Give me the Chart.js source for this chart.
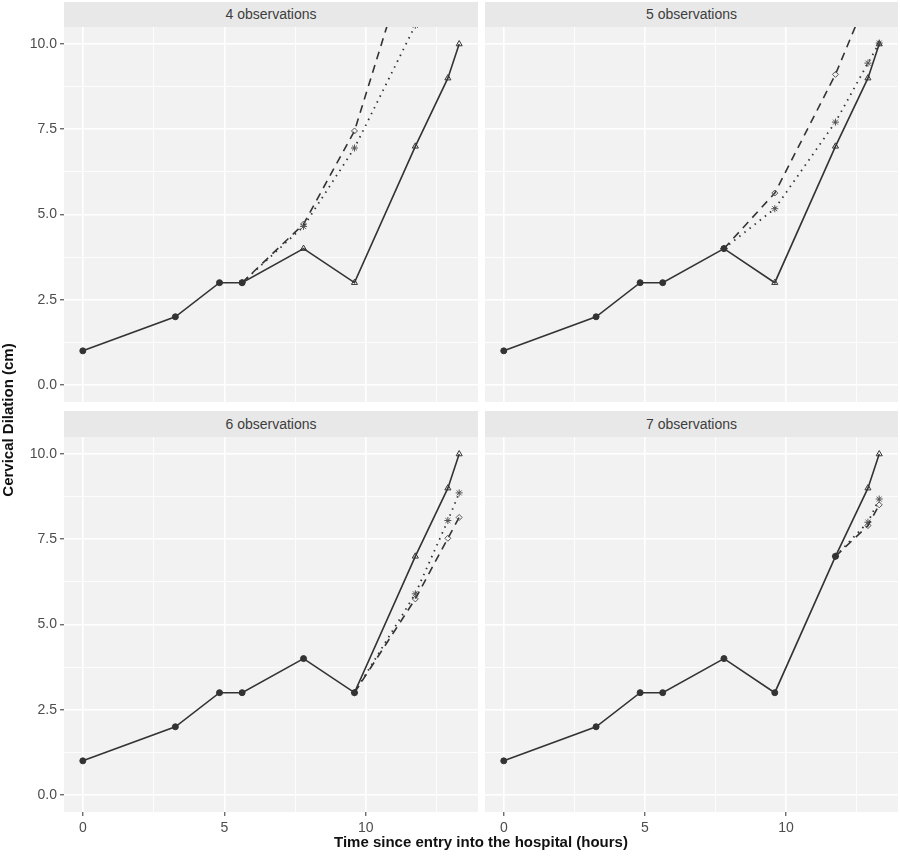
<!DOCTYPE html>
<html>
<head>
<meta charset="utf-8">
<script src="https://cdn.jsdelivr.net/npm/chart.js@4.4.0/dist/chart.umd.min.js"></script>
<style>
  body { margin: 0; background: #fff; width: 900px; height: 859px; position: relative; overflow: hidden; font-family: "Liberation Sans", Arial, sans-serif; }
  canvas { position: absolute; }
  .strip { position: absolute; background: #E8E8E8; color: #3d3d3d; font-size: 14px; text-align: center; line-height: 25px; }
  .titulo { position: absolute; font-weight: bold; font-size: 15px; color: #111; text-align: center; line-height: 18px; white-space: nowrap; }
</style>
</head>
<body>
<div class="strip" style="left:64px;top:2px;width:414px;height:25px">4 observations</div>
<div class="strip" style="left:485px;top:2px;width:413px;height:25px">5 observations</div>
<div class="strip" style="left:64px;top:411px;width:414px;height:26px;line-height:26px">6 observations</div>
<div class="strip" style="left:485px;top:411px;width:413px;height:26px;line-height:26px">7 observations</div>

<canvas id="panel4" width="478" height="375" style="left:0;top:27px"></canvas>
<canvas id="panel5" width="413" height="375" style="left:485px;top:27px"></canvas>
<canvas id="panel6" width="478" height="422" style="left:0;top:437px"></canvas>
<canvas id="panel7" width="413" height="422" style="left:485px;top:437px"></canvas>

<div class="titulo" style="left:-102px;top:411px;width:220px;transform:rotate(-90deg)">Cervical Dilation (cm)</div>
<div class="titulo" style="left:181px;top:833px;width:600px">Time since entry into the hospital (hours)</div>

<script>
// datos observados (tiempo en horas, dilatación en cm)
const horas = [0, 3.27, 4.83, 5.63, 7.8, 9.6, 11.75, 12.9, 13.3];
const dilatacion = [1, 2, 3, 3, 4, 3, 7, 9, 10];

// predicciones, empiezan en la última observación usada
const pred4Guiones = [3, 4.72, 7.45, 13.2];
const pred4Puntos = [3, 4.65, 6.95, 10.55];
const pred5Guiones = [4, 5.63, 9.11, 11.4];
const pred5Puntos = [4, 5.17, 7.71, 9.44, 10.03];
const pred6Guiones = [3, 5.75, 7.53, 8.14];
const pred6Puntos = [3, 5.9, 8.05, 8.86];
const pred7Guiones = [7, 7.9, 8.51];
const pred7Puntos = [7, 8.0, 8.68];

const ticksX = [0, 2.5, 5, 7.5, 10, 12.5];
const ticksY = [0, 1.25, 2.5, 3.75, 5, 6.25, 7.5, 8.75, 10];

const COLOR_LINEA = '#333333';
const COLOR_PANEL = '#F2F2F2';

const fondoPanel = {
    id: 'fondoPanel',
    beforeDraw(chart) {
        const { ctx, chartArea: a } = chart;
        ctx.save();
        ctx.fillStyle = COLOR_PANEL;
        ctx.fillRect(a.left, a.top, a.right - a.left, a.bottom - a.top);
        ctx.restore();
    }
};

function esMayor(v, paso) {
    return Math.abs(v / paso - Math.round(v / paso)) < 1e-6;
}

function puntos(xs, ys) {
    return ys.map((y, i) => ({ x: xs[i], y: y }));
}

function crearPanel(id, nObs, guiones, puntitos, conEjeX, conEjeY) {
    const xsPred = horas.slice(nObs - 1);
    const estilos = horas.map((h, i) => i < nObs ? 'circle' : 'triangle');

    new Chart(document.getElementById(id), {
        type: 'line',
        data: {
            datasets: [
                {
                    data: puntos(horas, dilatacion),
                    borderColor: COLOR_LINEA,
                    borderWidth: 1.6,
                    pointStyle: estilos,
                    pointRadius: horas.map((h, i) => i < nObs ? 3 : 3.5),
                    pointBackgroundColor: horas.map((h, i) => i < nObs ? COLOR_LINEA : 'rgba(0,0,0,0)'),
                    pointBorderColor: COLOR_LINEA,
                    pointBorderWidth: 1,
                    clip: 0
                },
                {
                    data: puntos(xsPred, guiones),
                    borderColor: COLOR_LINEA,
                    borderWidth: 1.6,
                    borderDash: [8, 6],
                    pointStyle: 'rectRot',
                    pointRadius: 3,
                    pointBackgroundColor: 'rgba(0,0,0,0)',
                    pointBorderColor: '#555',
                    pointBorderWidth: 1,
                    clip: 0
                },
                {
                    data: puntos(xsPred, puntitos),
                    borderColor: COLOR_LINEA,
                    borderWidth: 1.8,
                    borderDash: [1.5, 5],
                    pointStyle: 'star',
                    pointRadius: 3.5,
                    pointBorderColor: '#555',
                    pointBorderWidth: 1,
                    clip: 0
                }
            ]
        },
        options: {
            responsive: false,
            animation: false,
            events: [],
            layout: { autoPadding: false, padding: 0 },
            plugins: { legend: { display: false }, tooltip: { enabled: false } },
            scales: {
                x: {
                    type: 'linear',
                    min: -0.665,
                    max: 13.965,
                    afterBuildTicks: eje => { eje.ticks = ticksX.map(v => ({ value: v })); },
                    afterFit: eje => {
                        eje.height = conEjeX ? 47 : 0;
                        eje.paddingLeft = 0;
                        eje.paddingRight = 0;
                    },
                    border: { display: false },
                    grid: {
                        color: '#FFFFFF',
                        lineWidth: c => esMayor(c.tick.value, 5) ? 1.6 : 0.8,
                        drawTicks: conEjeX,
                        tickLength: 4,
                        tickColor: c => esMayor(c.tick.value, 5) ? '#333333' : 'rgba(0,0,0,0)',
                        tickWidth: 1
                    },
                    ticks: {
                        display: conEjeX,
                        autoSkip: false,
                        maxRotation: 0,
                        padding: 4,
                        color: '#4D4D4D',
                        font: { family: 'Liberation Sans', size: 14 },
                        callback: v => esMayor(v, 5) ? String(v) : ''
                    }
                },
                y: {
                    type: 'linear',
                    min: -0.5,
                    max: 10.5,
                    afterBuildTicks: eje => { eje.ticks = ticksY.map(v => ({ value: v })); },
                    afterFit: eje => {
                        eje.width = conEjeY ? 64 : 0;
                        eje.paddingTop = 0;
                        eje.paddingBottom = 0;
                    },
                    border: { display: false },
                    grid: {
                        color: '#FFFFFF',
                        lineWidth: c => esMayor(c.tick.value, 2.5) ? 1.6 : 0.8,
                        drawTicks: conEjeY,
                        tickLength: 4,
                        tickColor: c => esMayor(c.tick.value, 2.5) ? '#333333' : 'rgba(0,0,0,0)',
                        tickWidth: 1
                    },
                    ticks: {
                        display: conEjeY,
                        autoSkip: false,
                        padding: 3,
                        color: '#4D4D4D',
                        font: { family: 'Liberation Sans', size: 14 },
                        callback: v => esMayor(v, 2.5) ? v.toFixed(1) : ''
                    }
                }
            }
        },
        plugins: [fondoPanel]
    });
}

document.addEventListener('DOMContentLoaded', function() {
    crearPanel('panel4', 4, pred4Guiones, pred4Puntos, false, true);
    crearPanel('panel5', 5, pred5Guiones, pred5Puntos, false, false);
    crearPanel('panel6', 6, pred6Guiones, pred6Puntos, true, true);
    crearPanel('panel7', 7, pred7Guiones, pred7Puntos, true, false);
});
</script>
</body>
</html>
